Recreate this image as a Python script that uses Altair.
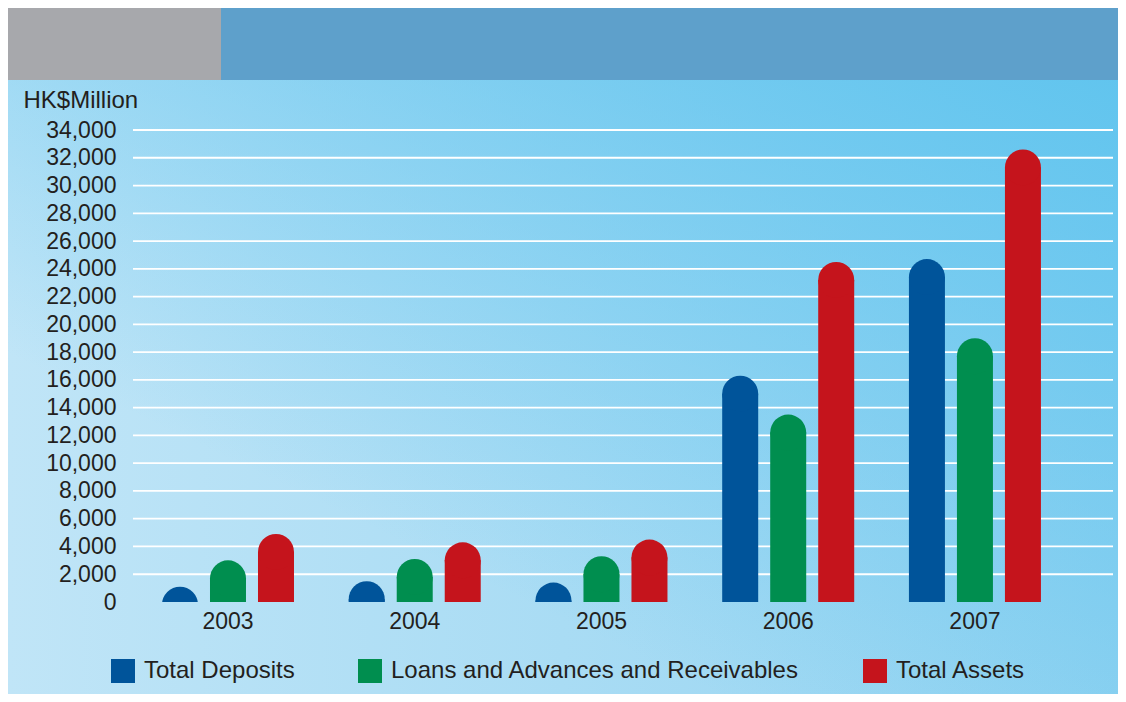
import altair as alt
import pandas as pd

years = ["2003", "2004", "2005", "2006", "2007"]
series = ["Total Deposits", "Loans and Advances and Receivables", "Total Assets"]
total_deposits = [1100, 1500, 1400, 16300, 24700]
loans_advances = [3000, 3100, 3300, 13500, 19000]
total_assets = [4900, 4300, 4500, 24500, 32600]
y_ticks = list(range(0, 34001, 2000))
colors = ["#00549a", "#008e4f", "#c5141c"]

rows = []
for i, y in enumerate(years):
    rows.append({"year": y, "series": series[0], "value": total_deposits[i]})
    rows.append({"year": y, "series": series[1], "value": loans_advances[i]})
    rows.append({"year": y, "series": series[2], "value": total_assets[i]})
df = pd.DataFrame(rows)
grid_df = pd.DataFrame({"v": y_ticks[1:]})
one = pd.DataFrame({"a": [0]})

FONT = "Liberation Sans, Arial"
TXT = "#231f20"
W, H = 980, 472
BAR_W = 36
YMAX = 34000
R_UNITS = (BAR_W / 2) * YMAX / H  # rounded-top radius in data units

grey_band = alt.Chart(one).mark_rect(color="#a7a8ac").encode(
    x=alt.value(-125), x2=alt.value(88), y=alt.value(-122), y2=alt.value(-50))
blue_band = alt.Chart(one).mark_rect(color="#5ea0cb").encode(
    x=alt.value(88), x2=alt.value(985), y=alt.value(-122), y2=alt.value(-50))
bg = alt.Chart(one).mark_rect(
    fill=alt.Gradient(gradient="linear", x1=0, y1=0, x2=1, y2=0,
                      stops=[alt.GradientStop(color="#c0e5f7", offset=0),
                             alt.GradientStop(color="#a9dcf4", offset=0.5),
                             alt.GradientStop(color="#92d3f1", offset=1)])
).encode(x=alt.value(-125), x2=alt.value(985), y=alt.value(-50), y2=alt.value(564))
bg2 = alt.Chart(one).mark_rect(
    fill=alt.Gradient(gradient="linear", x1=0.35, y1=0.75, x2=1, y2=0,
                      stops=[alt.GradientStop(color="rgba(92,195,238,0)", offset=0),
                             alt.GradientStop(color="rgba(92,195,238,0.9)", offset=1)])
).encode(x=alt.value(-125), x2=alt.value(985), y=alt.value(-50), y2=alt.value(564))

y_axis = alt.Axis(values=y_ticks, format=",d", title="HK$Million", titleAngle=0,
                  titleAlign="left", titleBaseline="alphabetic", titleX=-110,
                  titleY=-23, titleFontSize=24, titleFontWeight="normal",
                  titleFont=FONT, titleColor=TXT, labelFontSize=23,
                  labelFont=FONT, labelColor=TXT, labelPadding=17, ticks=False,
                  domain=False, grid=False, zindex=1)
y_scale = alt.Scale(domain=[0, YMAX], nice=False)
x_enc = alt.X("year:N", sort=years,
              scale=alt.Scale(paddingInner=0, paddingOuter=0.124, align=0.035),
              axis=alt.Axis(title=None, labelAngle=0, labelPadding=8, ticks=False,
                            domain=False, grid=False, labelFontSize=23, labelFont=FONT,
                            labelColor=TXT, zindex=1))
xoff_enc = alt.XOffset("series:N", sort=series,
                       scale=alt.Scale(domain=series, paddingInner=0.25, paddingOuter=0.57))
legend = alt.Legend(title=None, orient="none", legendX=-22, legendY=529,
                    direction="horizontal", symbolType="square",
                    symbolSize=576, symbolStrokeWidth=0,
                    labelFontSize=24, labelFont=FONT, labelColor=TXT,
                    labelOffset=9, columnPadding=63, padding=0,
                    symbolOpacity=1, labelLimit=600)
color_enc = alt.Color("series:N", sort=series,
                      scale=alt.Scale(domain=series, range=colors), legend=legend)

grid = alt.Chart(grid_df).mark_rule(color="white", strokeWidth=1.8).encode(
    y=alt.Y("v:Q", scale=y_scale, axis=y_axis),
    x=alt.value(0), x2=alt.value(W))

base = alt.Chart(df).transform_calculate(
    body=f"max(datum.value - {R_UNITS}, 0)",
    cap=f"datum.value - {R_UNITS}",
)

bars = base.mark_bar(size=BAR_W).encode(
    x=x_enc, xOffset=xoff_enc,
    y=alt.Y("body:Q", scale=y_scale, axis=y_axis),
    color=color_enc,
)
caps = base.mark_circle(size=BAR_W ** 2, opacity=1, clip=True, strokeWidth=0).encode(
    x=x_enc, xOffset=xoff_enc,
    y=alt.Y("cap:Q", scale=y_scale, axis=y_axis),
    color=color_enc,
)

chart = alt.layer(grey_band, blue_band, bg, bg2, grid, bars, caps).properties(
    width=W, height=H,
    autosize=alt.AutoSizeParams(type="none"),
    padding={"left": 125, "top": 122, "right": 5, "bottom": 92},
).configure_view(stroke=None)

chart.save("out.html", embed_options={"renderer": "svg", "actions": False})
